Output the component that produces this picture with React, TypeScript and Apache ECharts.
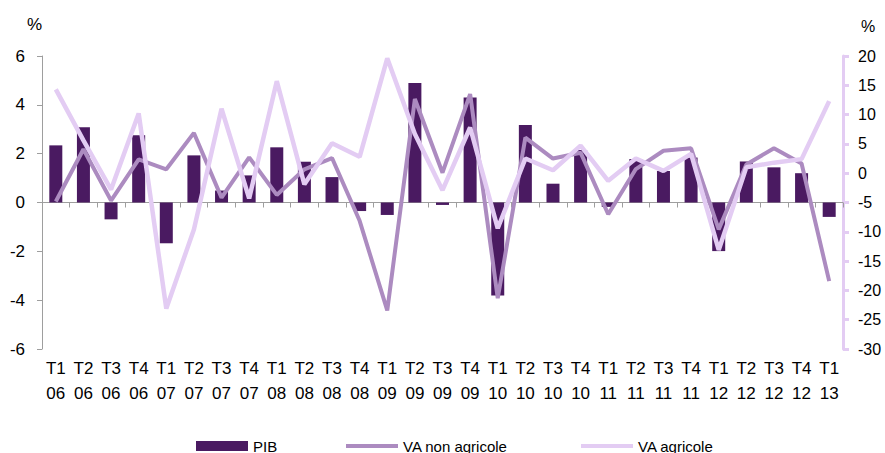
import React, { useEffect, useRef } from "react";
import * as echarts from "echarts";

const categories = [
  "T1\n06", "T2\n06", "T3\n06", "T4\n06",
  "T1\n07", "T2\n07", "T3\n07", "T4\n07",
  "T1\n08", "T2\n08", "T3\n08", "T4\n08",
  "T1\n09", "T2\n09", "T3\n09", "T4\n09",
  "T1\n10", "T2\n10", "T3\n10", "T4\n10",
  "T1\n11", "T2\n11", "T3\n11", "T4\n11",
  "T1\n12", "T2\n12", "T3\n12", "T4\n12",
  "T1\n13",
];

const pib = [
  2.34, 3.08, -0.69, 2.75,
  -1.67, 1.93, 0.49, 1.11,
  2.26, 1.67, 1.04, -0.35,
  -0.51, 4.89, -0.1, 4.3,
  -3.81, 3.17, 0.77, 2.15,
  -0.18, 1.78, 1.29, 1.84,
  -1.99, 1.68, 1.44, 1.2,
  -0.59,
];

const vaNonAgricole = [
  0.04, 2.18, 0.08, 1.77,
  1.36, 2.85, 0.2, 1.85,
  0.31, 1.36, 1.82, -0.75,
  -4.42, 4.24, 1.22, 4.44,
  -3.92, 2.66, 1.8, 2.04,
  -0.48, 1.37, 2.12, 2.22,
  -1.1, 1.56, 2.22, 1.6,
  -3.22,
];

const vaAgricole = [
  14.3, 5.6, -2.8, 10.2,
  -23.1, -9.6, 11.0, -4.3,
  15.7, -1.9, 5.1, 2.8,
  19.6, 6.7, -2.9, 7.8,
  -9.4, 2.5, 0.5, 4.7,
  -1.3, 2.5, 0.4, 3.3,
  -13.1, 1.0, 1.8, 2.4,
  12.3,
];

const leftTicks = { min: -6, max: 6, interval: 2 };
const rightTicks = { min: -30, max: 20, interval: 5 };

const COLOR_PIB = "#4A1A61";
const COLOR_NON = "#AC8BC0";
const COLOR_AGRI = "#E3CCF3";
const AXIS_GREY = "#9E9E9E";
const FONT = "Liberation Sans, Arial, sans-serif";

export default function App() {
  const ref = useRef<HTMLDivElement>(null);

  useEffect(() => {
    document.body.style.margin = "0";
    if (!ref.current) return;
    const chart = echarts.init(ref.current, null, { renderer: "svg" });
    const legendText = { fontSize: 15, color: "#000", fontFamily: FONT, lineHeight: 16 };
    chart.setOption({
      animation: false,
      textStyle: { fontFamily: FONT },
      grid: { left: 42, right: 42, top: 56, bottom: 104, containLabel: false },
      legend: [
        {
          data: ["PIB"], left: 196, top: 438, padding: 0, icon: "rect",
          itemWidth: 52, itemHeight: 10, textStyle: legendText,
        },
        {
          data: ["VA non agricole"], left: 346, top: 438, padding: 0, icon: "rect",
          itemWidth: 52, itemHeight: 4, textStyle: legendText,
        },
        {
          data: ["VA agricole"], left: 581, top: 438, padding: 0, icon: "rect",
          itemWidth: 52, itemHeight: 4, textStyle: legendText,
        },
      ],
      graphic: [
        { type: "text", left: 27, top: 16, style: { text: "%", fontSize: 17, fill: "#000", fontFamily: FONT } },
        { type: "text", left: 861, top: 18, style: { text: "%", fontSize: 16, fill: "#000", fontFamily: FONT } },
      ],
      xAxis: [
        {
          type: "category",
          data: categories,
          axisLine: { onZero: true, onZeroAxisIndex: 0, lineStyle: { color: AXIS_GREY, width: 1 } },
          axisTick: { show: true, length: 5, lineStyle: { color: AXIS_GREY } },
          axisLabel: { show: false },
          splitLine: { show: false },
        },
        {
          type: "category",
          data: categories,
          position: "bottom",
          axisLine: { show: false, onZero: false },
          axisTick: { show: false },
          axisLabel: {
            show: true, interval: 0, fontSize: 17, lineHeight: 25, margin: 7,
            color: "#000", fontFamily: FONT,
          },
          splitLine: { show: false },
        },
      ],
      yAxis: [
        {
          type: "value",
          min: leftTicks.min, max: leftTicks.max, interval: leftTicks.interval,
          axisLine: { show: true, lineStyle: { color: AXIS_GREY, width: 1 } },
          axisTick: { show: true, length: 5, lineStyle: { color: AXIS_GREY } },
          axisLabel: { fontSize: 17, color: "#000", margin: 17, fontFamily: FONT },
          splitLine: { show: false },
        },
        {
          type: "value",
          position: "right",
          min: rightTicks.min, max: rightTicks.max, interval: rightTicks.interval,
          axisLine: { show: true, lineStyle: { color: COLOR_AGRI, width: 3 } },
          axisTick: { show: true, length: 6, lineStyle: { color: COLOR_AGRI, width: 3 } },
          axisLabel: { fontSize: 16, color: "#000", margin: 15, fontFamily: FONT },
          splitLine: { show: false },
        },
      ],
      series: [
        {
          name: "PIB", type: "bar", xAxisIndex: 0, yAxisIndex: 0,
          data: pib, barWidth: 13, itemStyle: { color: COLOR_PIB },
        },
        {
          name: "VA non agricole", type: "line", xAxisIndex: 0, yAxisIndex: 0,
          data: vaNonAgricole, symbol: "none", color: COLOR_NON,
          lineStyle: { color: COLOR_NON, width: 4 }, itemStyle: { color: COLOR_NON },
        },
        {
          name: "VA agricole", type: "line", xAxisIndex: 0, yAxisIndex: 1,
          data: vaAgricole, symbol: "none", color: COLOR_AGRI,
          lineStyle: { color: COLOR_AGRI, width: 4.5 }, itemStyle: { color: COLOR_AGRI },
        },
      ],
    });
    return () => chart.dispose();
  }, []);

  return <div ref={ref} style={{ width: 885, height: 453 }} />;
}
